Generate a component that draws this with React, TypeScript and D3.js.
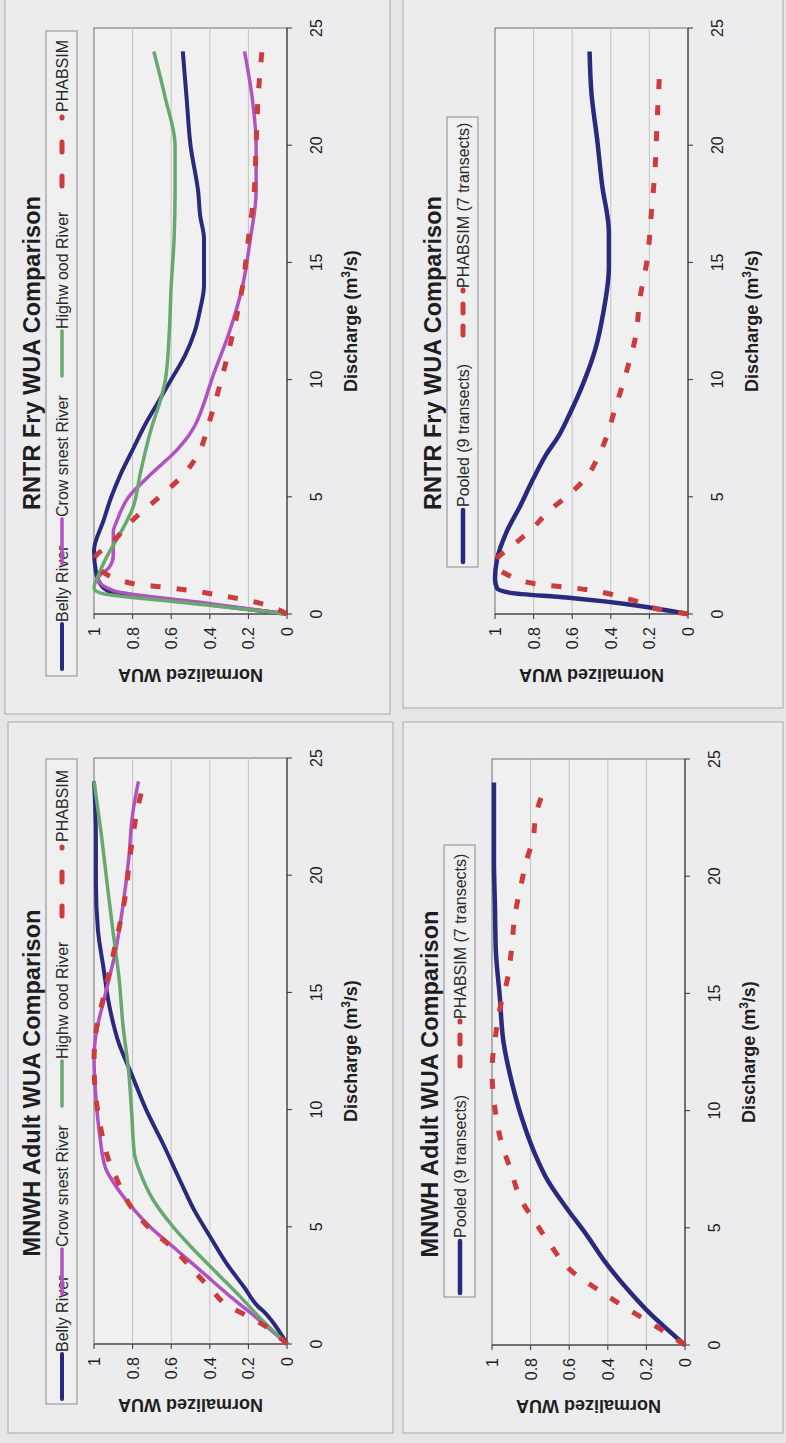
import React from "react";
import * as d3 from "d3";

type Pt = [number, number];

const dischargeTicks = [0, 5, 10, 15, 20, 25];
const wuaTicks = [0, 0.2, 0.4, 0.6, 0.8, 1];

// RNTR Fry - per river
const rntrBelly: Pt[] = [[0,0],[0.5,0.5],[0.9,0.9],[1.2,0.96],[1.8,0.99],[2.7,1],[4,0.95],[5,0.91],[6,0.86],[7,0.8],[8,0.74],[9,0.67],[10,0.6],[11,0.53],[12,0.48],[13,0.45],[14,0.43],[16,0.43],[17,0.45],[18,0.46],[20,0.5],[22,0.52],[24,0.54]];
const rntrCrow: Pt[] = [[0,0],[0.5,0.45],[1,0.9],[1.5,0.98],[2,0.92],[2.5,0.9],[3.5,0.9],[4,0.88],[5,0.82],[6,0.7],[7,0.57],[7.6,0.51],[8,0.48],[9,0.43],[10,0.39],[12,0.3],[14,0.23],[16,0.19],[18,0.16],[20,0.16],[22,0.18],[24,0.22]];
const rntrHigh: Pt[] = [[0,0],[0.5,0.55],[0.9,0.97],[1.1,1],[1.6,0.98],[2.5,0.93],[3.5,0.86],[4.5,0.8],[6,0.76],[8,0.7],[9,0.66],[10,0.63],[12,0.61],[14,0.6],[16,0.585],[18,0.58],[20,0.58],[22,0.63],[24,0.69]];
const rntrPhab: Pt[] = [[0,0],[0.5,0.16],[0.7,0.28],[1.1,0.59],[1.3,0.8],[1.9,0.97],[2.3,1],[3.1,0.9],[4,0.8],[5,0.66],[6,0.53],[7,0.45],[8,0.41],[10,0.34],[12,0.28],[14,0.23],[16,0.2],[18,0.17],[20,0.16],[22,0.15],[24,0.13]];

// RNTR Fry - pooled
const rntrPooled: Pt[] = [[0,0],[0.7,0.63],[0.9,0.92],[1.1,0.99],[1.5,1],[2.3,0.99],[3.5,0.94],[4.6,0.87],[5.8,0.8],[6.8,0.735],[7.6,0.67],[8.5,0.615],[10,0.535],[11.3,0.48],[12.8,0.44],[14.8,0.41],[16.3,0.41],[18.3,0.445],[20.2,0.47],[22.2,0.5],[24,0.51]];
const rntrPhab7: Pt[] = [[0,0],[0.2,0.15],[0.6,0.29],[1.1,0.58],[1.3,0.8],[1.7,0.94],[2.2,1],[2.9,0.91],[3.7,0.8],[4.4,0.72],[5,0.63],[5.8,0.53],[6.8,0.46],[7.6,0.42],[8.7,0.38],[10.3,0.32],[11.9,0.27],[13.4,0.25],[15.2,0.21],[17.1,0.19],[19.1,0.17],[21,0.16],[23.4,0.145]];

// MNWH Adult - per river
const mnwhBelly: Pt[] = [[0,0],[1,0.08],[1.3,0.11],[1.6,0.15],[2.4,0.22],[3.4,0.31],[4.6,0.4],[5.7,0.48],[6.9,0.55],[8.5,0.64],[10,0.73],[11.6,0.81],[12.8,0.87],[14.4,0.92],[16,0.95],[17.7,0.98],[19.7,0.99],[21.6,0.99],[24,1]];
const mnwhCrow: Pt[] = [[0,0],[1.2,0.17],[2,0.29],[3,0.43],[4,0.57],[5,0.71],[5.9,0.81],[6.9,0.9],[7.5,0.94],[8.9,0.97],[10.5,0.99],[12.2,1],[13.2,0.99],[14.8,0.945],[16.7,0.89],[18.7,0.85],[20.7,0.82],[22.6,0.8],[24,0.77]];
const mnwhHigh: Pt[] = [[0,0],[1.2,0.15],[2,0.24],[3,0.36],[4,0.48],[5,0.59],[6.1,0.69],[7.3,0.76],[8.1,0.79],[9.9,0.805],[11.6,0.82],[13.6,0.85],[15.6,0.87],[17.5,0.9],[19.5,0.93],[21.6,0.96],[24,1]];
const mnwhPhab: Pt[] = [[0,0],[0.8,0.12],[1.2,0.205],[1.6,0.3],[2.4,0.4],[3,0.47],[4,0.58],[5,0.72],[6,0.82],[7,0.88],[8,0.93],[9,0.96],[10.5,0.99],[12,1],[13.3,0.99],[15,0.945],[17,0.89],[19,0.84],[21,0.81],[23,0.77],[24,0.74]];

// MNWH Adult - pooled
const mnwhPooled: Pt[] = [[0,0],[1.1,0.15],[1.5,0.2],[2.3,0.29],[3.5,0.41],[4.7,0.51],[5.8,0.61],[7,0.71],[8.2,0.78],[9.8,0.85],[11.3,0.9],[12.9,0.94],[14.9,0.96],[16.8,0.98],[18.8,0.985],[20.7,0.99],[24,0.99]];
const mnwhPhab7: Pt[] = [[0,0],[0.9,0.17],[1.5,0.29],[2.3,0.44],[3.1,0.58],[4.3,0.7],[5.3,0.78],[6.2,0.85],[7.4,0.9],[8.6,0.95],[10.1,0.985],[11.7,1],[13.3,0.98],[14.5,0.955],[15.6,0.92],[16.8,0.9],[18.4,0.88],[19.6,0.85],[20.7,0.82],[21.5,0.79],[22.7,0.77],[23.7,0.73]];

const NAVY = "#2a2a7c";
const PURPLE = "#b052c0";
const GREEN = "#68a86e";
const RED = "#cc3c3c";
const FONT = "'Liberation Sans', Arial, sans-serif";

const PW = 586;
const PH = 193;

interface Series { name: string; color: string; width: number; dash?: string; data: Pt[] }
interface LegendItem { s0: number; s1: number; lx: number; sdash?: string }

const riverLegend: LegendItem[] = [
  { s0: -55, s1: -10, lx: -8 },
  { s0: 50, s1: 95, lx: 97 },
  { s0: 238, s1: 283, lx: 285 },
  { s0: 428, s1: 497, lx: 502, sdash: "10 24" },
];
const pooledLegend: LegendItem[] = [
  { s0: 52, s1: 104, lx: 107 },
  { s0: 279, s1: 324, lx: 326, sdash: "9 13" },
];

function riverSeries(b: Pt[], c: Pt[], h: Pt[], p: Pt[]): Series[] {
  return [
    { name: "Belly River", color: NAVY, width: 4, data: b },
    { name: "Crow snest River", color: PURPLE, width: 3.5, data: c },
    { name: "Highw ood River", color: GREEN, width: 3.5, data: h },
    { name: "PHABSIM", color: RED, width: 5, dash: "10 16", data: p },
  ];
}
function pooledSeries(a: Pt[], p: Pt[]): Series[] {
  return [
    { name: "Pooled (9 transects)", color: NAVY, width: 4.5, data: a },
    { name: "PHABSIM (7 transects)", color: RED, width: 5, dash: "10 16", data: p },
  ];
}

function Panel(props: {
  title: string; series: Series[]; left: number; top: number;
  legend: LegendItem[]; box: [number, number]; frame: [number, number, number, number];
}) {
  const { title, series, left, top, legend, box, frame } = props;
  const x = d3.scaleLinear().domain([0, 25]).range([left, left + PW]);
  const y = d3.scaleLinear().domain([0, 1]).range([top + PH, top]);
  const gen = d3.line<Pt>().x((d) => x(d[0])).y((d) => y(d[1])).curve(d3.curveMonotoneX);
  const bottom = top + PH;
  const ly = top - 32;
  return (
    <g fontFamily={FONT} fill="#1e1e1e">
      <rect x={frame[0]} y={frame[1]} width={frame[2]} height={frame[3]} fill="#ececee" stroke="#a8a8aa" strokeWidth={1} />
      <text x={left + 261} y={top - 54} textAnchor="middle" fontSize={23.5} fontWeight="bold">{title}</text>
      {/* legend */}
      <rect x={left + box[0]} y={top - 48} width={box[1] - box[0]} height={31} fill="#efeff0" stroke="#8a8a8c" strokeWidth={1} />
      {series.map((s, i) => (
        <g key={s.name}>
          <line x1={left + legend[i].s0} x2={left + legend[i].s1} y1={ly} y2={ly} stroke={s.color}
            strokeWidth={s.width} strokeDasharray={legend[i].sdash} strokeLinecap="round" />
          <text x={left + legend[i].lx} y={ly + 6} fontSize={16} fill="#2a2a2a">{s.name}</text>
        </g>
      ))}
      {/* plot area */}
      <rect x={left} y={top} width={PW} height={PH} fill="#f0f0f1" stroke="#707072" strokeWidth={1} />
      {wuaTicks.filter((v) => v > 0 && v < 1).map((v) => (
        <line key={v} x1={left} x2={left + PW} y1={y(v)} y2={y(v)} stroke="#c2c2c4" strokeWidth={1} />
      ))}
      <line x1={left} x2={left} y1={top} y2={bottom} stroke="#333" />
      <line x1={left} x2={left + PW} y1={bottom} y2={bottom} stroke="#333" />
      {wuaTicks.map((v) => (
        <g key={v}>
          <line x1={left - 5} x2={left} y1={y(v)} y2={y(v)} stroke="#333" />
          <text x={left - 13} y={y(v) + 6} textAnchor="end" fontSize={16}>{String(v)}</text>
        </g>
      ))}
      {dischargeTicks.map((v) => (
        <g key={v}>
          <line x1={x(v)} x2={x(v)} y1={bottom} y2={bottom + 5} stroke="#333" />
          <text x={x(v)} y={bottom + 35} textAnchor="middle" fontSize={16}>{v}</text>
        </g>
      ))}
      <text x={x(12.5)} y={bottom + 70} textAnchor="middle" fontSize={18} fontWeight="bold">
        Discharge (m<tspan dy={-7} fontSize={12}>3</tspan><tspan dy={7}>/s)</tspan>
      </text>
      <text transform={`translate(${left - 55},${top + PH / 2}) rotate(-90)`} textAnchor="middle" fontSize={18} fontWeight="bold">
        Normalized WUA
      </text>
      {series.map((s) => (
        <path key={s.name} d={gen(s.data) || ""} fill="none" stroke={s.color} strokeWidth={s.width}
          strokeDasharray={s.dash} strokeLinejoin="round" />
      ))}
    </g>
  );
}

export default function App() {
  return (
    <svg width={786} height={1443} style={{ position: "absolute", left: 0, top: 0, background: "#e6e6e8" }}>
      <g transform="translate(0,1443) rotate(-90)">
        <Panel title="MNWH Adult WUA Comparison" series={riverSeries(mnwhBelly, mnwhCrow, mnwhHigh, mnwhPhab)}
          left={99} top={94} legend={riverLegend} box={[-60, 585]} frame={[10, 8, 711, 385]} />
        <Panel title="RNTR Fry WUA Comparison" series={riverSeries(rntrBelly, rntrCrow, rntrHigh, rntrPhab)}
          left={829} top={94} legend={riverLegend} box={[-62, 583]} frame={[729, 5, 720, 385]} />
        <Panel title="MNWH Adult WUA Comparison" series={pooledSeries(mnwhPooled, mnwhPhab7)}
          left={98} top={492} legend={pooledLegend} box={[48, 500]} frame={[10, 403, 711, 380]} />
        <Panel title="RNTR Fry WUA Comparison" series={pooledSeries(rntrPooled, rntrPhab7)}
          left={829} top={495} legend={pooledLegend} box={[47, 497]} frame={[735, 403, 720, 380]} />
      </g>
    </svg>
  );
}
